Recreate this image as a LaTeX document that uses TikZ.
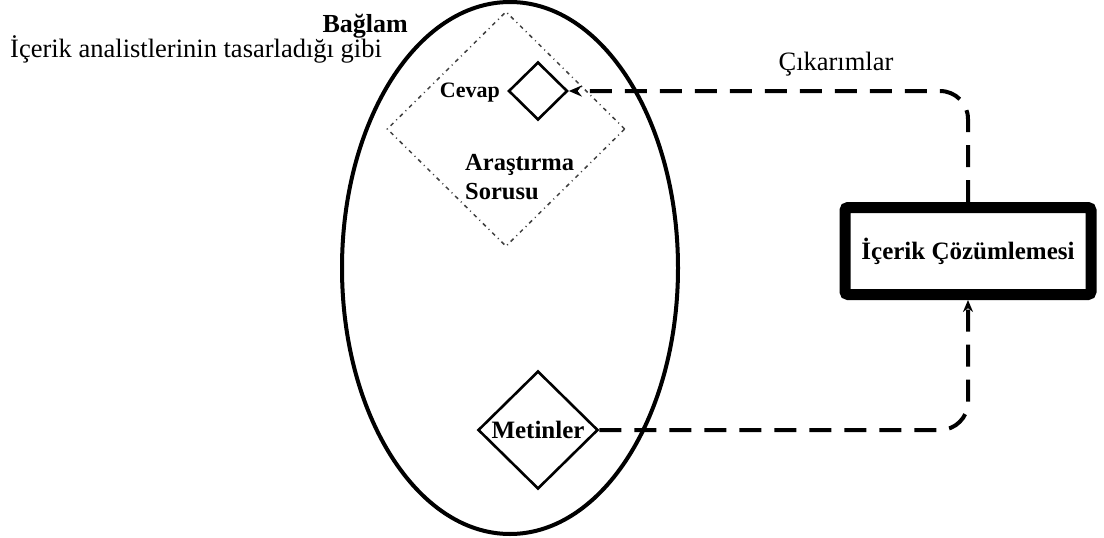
\documentclass[tikz,border=0pt]{standalone}
\usepackage{fontspec}
\setmainfont{Liberation Serif}
\usetikzlibrary{positioning,arrows.meta,shapes.geometric}

\begin{document}
\begin{tikzpicture}[x=1pt, y=-1pt,
  dia/.style={draw, diamond, line width=2.6pt, inner sep=0pt, font=\fontsize{25}{28}\selectfont\bfseries},
  lab/.style={inner sep=0pt, font=\fontsize{26.5}{30}\selectfont},
  blab/.style={inner sep=0pt, font=\fontsize{25}{29}\selectfont\bfseries},
  link/.style={line width=4pt, dash pattern=on 22pt off 13pt, rounded corners=28pt}]
\useasboundingbox (0,0) rectangle (1104,538);
\node[draw, ellipse, line width=4pt, minimum width=336pt, minimum height=532pt] (ctx) at (510,268) {};
\node[draw, diamond, gray!50!black, line width=1.5pt, dash pattern=on 4pt off 4pt on 1pt off 4pt, minimum width=238pt, minimum height=235pt] (rq) at (506,129) {};
\node[dia, minimum width=59pt, minimum height=58pt] (cevap) at (538,91) {};
\node[dia, minimum width=120pt, minimum height=118pt] (metin) at (538,430) {Metinler};
\node[draw, line width=11pt, rounded corners=3pt, minimum width=246pt, minimum height=87pt, blab] (ca) at (968,251) {İçerik Çözümlemesi};
% labels
\node[blab, font=\fontsize{26}{30}\selectfont\bfseries, anchor=base east] (baglam) at (408,32) {Bağlam};
\node[lab, anchor=base west] (desc) at (10,57) {İçerik analistlerinin tasarladığı gibi};
\node[lab, anchor=base] (cik) at (836,70) {Çıkarımlar};
\node[blab, font=\fontsize{22}{26}\selectfont\bfseries, anchor=base east] (cevaplab) at (500,97) {Cevap};
\node[blab, font=\fontsize{24.5}{29}\selectfont\bfseries, align=left, anchor=west] (soru) at (465,177) {Araştırma\\Sorusu};
% connectors
\draw[link, -{Stealth[length=12pt, width=10pt]}] (metin.east) -| (ca.south);
\draw[link, -{Stealth[open, length=13pt, width=11pt]}] (ca.north) |- (cevap.east);
\end{tikzpicture}
\end{document}
